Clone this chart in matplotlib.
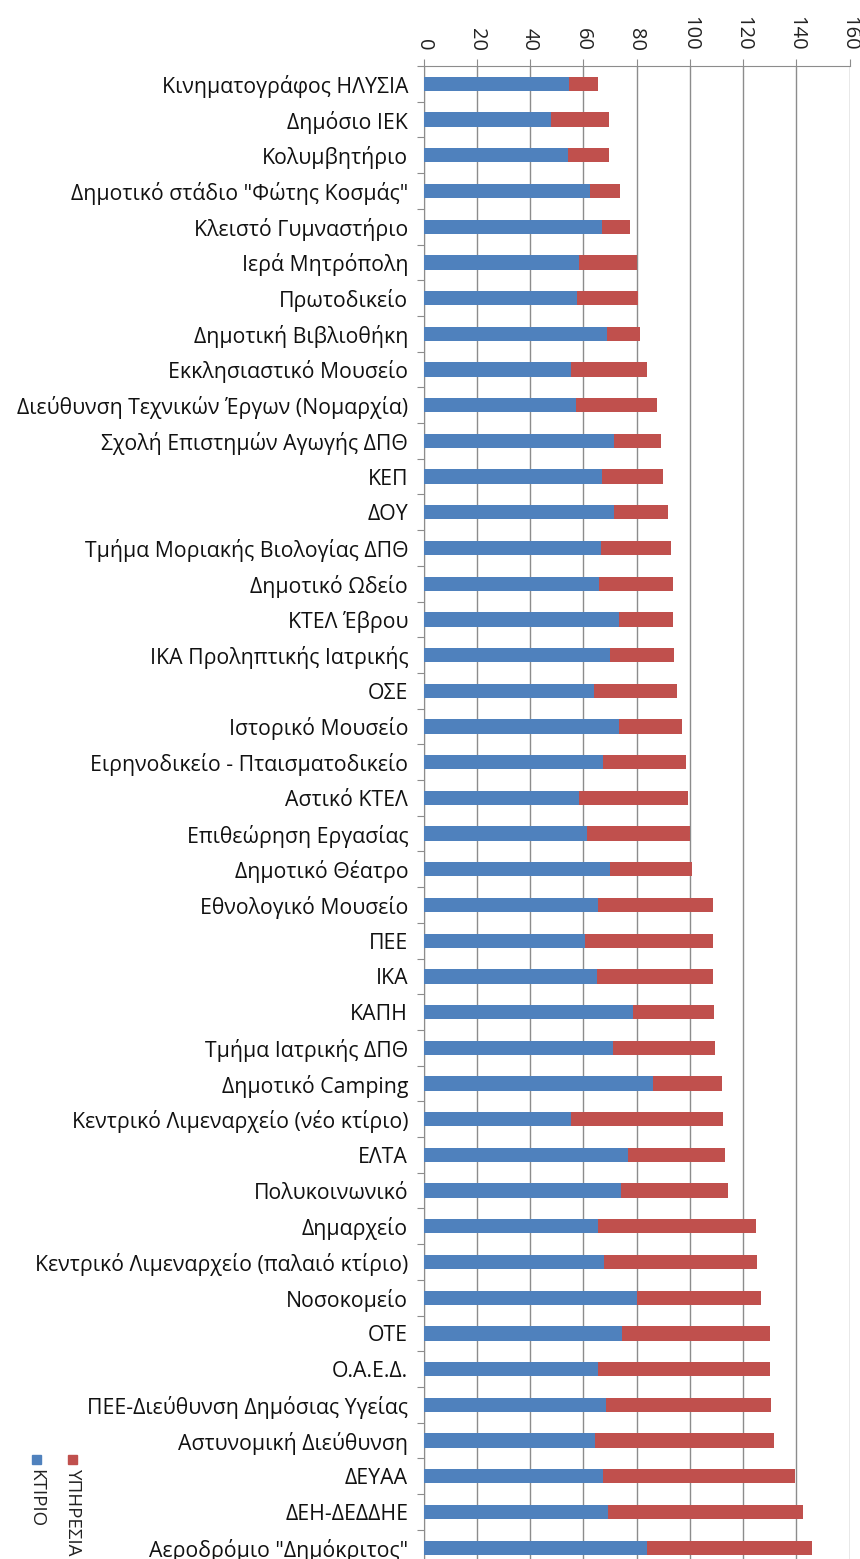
import matplotlib
matplotlib.use("Agg")
import matplotlib.pyplot as plt
import numpy as np
from matplotlib.patches import Rectangle

plt.rcParams["font.family"] = ["Open Sans", "DejaVu Sans"]

# κατηγορίες (από πάνω προς τα κάτω)
categories = [
    "Κινηματογράφος ΗΛΥΣΙΑ", "Δημόσιο ΙΕΚ", "Κολυμβητήριο",
    "Δημοτικό στάδιο \"Φώτης Κοσμάς\"", "Κλειστό Γυμναστήριο", "Ιερά Μητρόπολη",
    "Πρωτοδικείο", "Δημοτική Βιβλιοθήκη", "Εκκλησιαστικό Μουσείο",
    "Διεύθυνση Τεχνικών Έργων (Νομαρχία)", "Σχολή Επιστημών Αγωγής ΔΠΘ", "ΚΕΠ",
    "ΔΟΥ", "Τμήμα Μοριακής Βιολογίας ΔΠΘ", "Δημοτικό Ωδείο", "ΚΤΕΛ Έβρου",
    "ΙΚΑ Προληπτικής Ιατρικής", "ΟΣΕ", "Ιστορικό Μουσείο",
    "Ειρηνοδικείο - Πταισματοδικείο", "Αστικό ΚΤΕΛ", "Επιθεώρηση Εργασίας",
    "Δημοτικό Θέατρο", "Εθνολογικό Μουσείο", "ΠΕΕ", "ΙΚΑ", "ΚΑΠΗ",
    "Τμήμα Ιατρικής ΔΠΘ", "Δημοτικό Camping", "Κεντρικό Λιμεναρχείο (νέο κτίριο)",
    "ΕΛΤΑ", "Πολυκοινωνικό", "Δημαρχείο", "Κεντρικό Λιμεναρχείο (παλαιό κτίριο)",
    "Νοσοκομείο", "ΟΤΕ", "Ο.Α.Ε.Δ.", "ΠΕΕ-Διεύθυνση Δημόσιας Υγείας",
    "Αστυνομική Διεύθυνση", "ΔΕΥΑΑ", "ΔΕΗ-ΔΕΔΔΗΕ", "Αεροδρόμιο \"Δημόκριτος\"",
]

ktirio = [54.7, 48.0, 54.1, 62.6, 66.9, 58.3, 57.5, 69.1, 55.3, 57.2, 71.6, 66.9,
          71.6, 66.5, 66.1, 73.6, 70.2, 64.2, 73.6, 67.6, 58.3, 61.3, 70.2, 65.7,
          60.8, 65.1, 78.7, 71.2, 86.3, 55.3, 76.9, 74.2, 65.7, 67.9, 80.3, 74.5,
          65.4, 68.7, 64.6, 67.6, 69.4, 84.0]

synolo = [65.4, 69.5, 69.5, 73.9, 77.6, 80.0, 80.6, 81.4, 83.9, 87.6, 89.1, 89.9,
          91.8, 92.9, 93.6, 93.6, 94.0, 95.1, 97.0, 98.5, 99.5, 100.0, 101.0, 108.8,
          108.8, 108.8, 109.2, 109.5, 112.2, 112.6, 113.3, 114.4, 124.8, 125.2, 126.7,
          130.1, 130.1, 130.5, 131.6, 139.7, 142.7, 146.1]

ypiresia = [round(s - k, 1) for s, k in zip(synolo, ktirio)]

c_ktirio = "#4F81BD"
c_ypiresia = "#C0504D"
grid_c = "#8C8C8C"

fig = plt.figure(figsize=(8.6, 15.59), dpi=100)
ax = fig.add_axes([423.5 / 860, -6.5 / 1559, 426 / 860, 1 - 66 / 1559 + 6.5 / 1559])

y = np.arange(len(categories))
ax.barh(y, ktirio, height=0.4, color=c_ktirio, zorder=3)
ax.barh(y, ypiresia, left=ktirio, height=0.4, color=c_ypiresia, zorder=3)

ax.set_xlim(0, 160)
ax.set_ylim(len(categories) - 0.5, -0.5)
ax.set_xticks(np.arange(0, 161, 20))

# άξονας x πάνω, περιστραμμένα labels
ax.xaxis.tick_top()
ax.tick_params(axis="x", which="major", direction="out", length=5, width=0.8,
               color=grid_c, labelsize=14.5, labelrotation=-90, pad=6,
               labelcolor="#222222")
for lbl in ax.get_xticklabels():
    lbl.set_va("bottom")

ax.grid(axis="x", color=grid_c, linewidth=1, zorder=0)

# κατηγορίες
ax.set_yticks(y)
ax.set_yticklabels(categories)
ax.set_yticks(np.arange(-0.5, len(categories), 1), minor=True)
ax.tick_params(axis="y", which="major", length=0, pad=11, labelsize=15.3,
               labelcolor="#111111")
ax.tick_params(axis="y", which="minor", direction="out", length=5, width=0.8,
               color=grid_c)

for s in ["right", "bottom"]:
    ax.spines[s].set_visible(False)
ax.spines["left"].set_color(grid_c)
ax.spines["top"].set_color(grid_c)

# υπόμνημα (κάθετο)
fig.patches.append(Rectangle((32 / 860, 1 - 1464 / 1559), 9 / 860, 9 / 1559,
                             transform=fig.transFigure, color=c_ktirio))
fig.patches.append(Rectangle((68 / 860, 1 - 1464 / 1559), 9 / 860, 9 / 1559,
                             transform=fig.transFigure, color=c_ypiresia))
fig.text(36.5 / 860, 1 - 1469 / 1559, "ΚΤΙΡΙΟ", rotation=-90, ha="center", va="top",
         fontsize=13.5, color="#222222")
fig.text(72.5 / 860, 1 - 1469 / 1559, "ΥΠΗΡΕΣΙΑ", rotation=-90, ha="center", va="top",
         fontsize=13.5, color="#222222")

fig.savefig("out.png", dpi=100)
